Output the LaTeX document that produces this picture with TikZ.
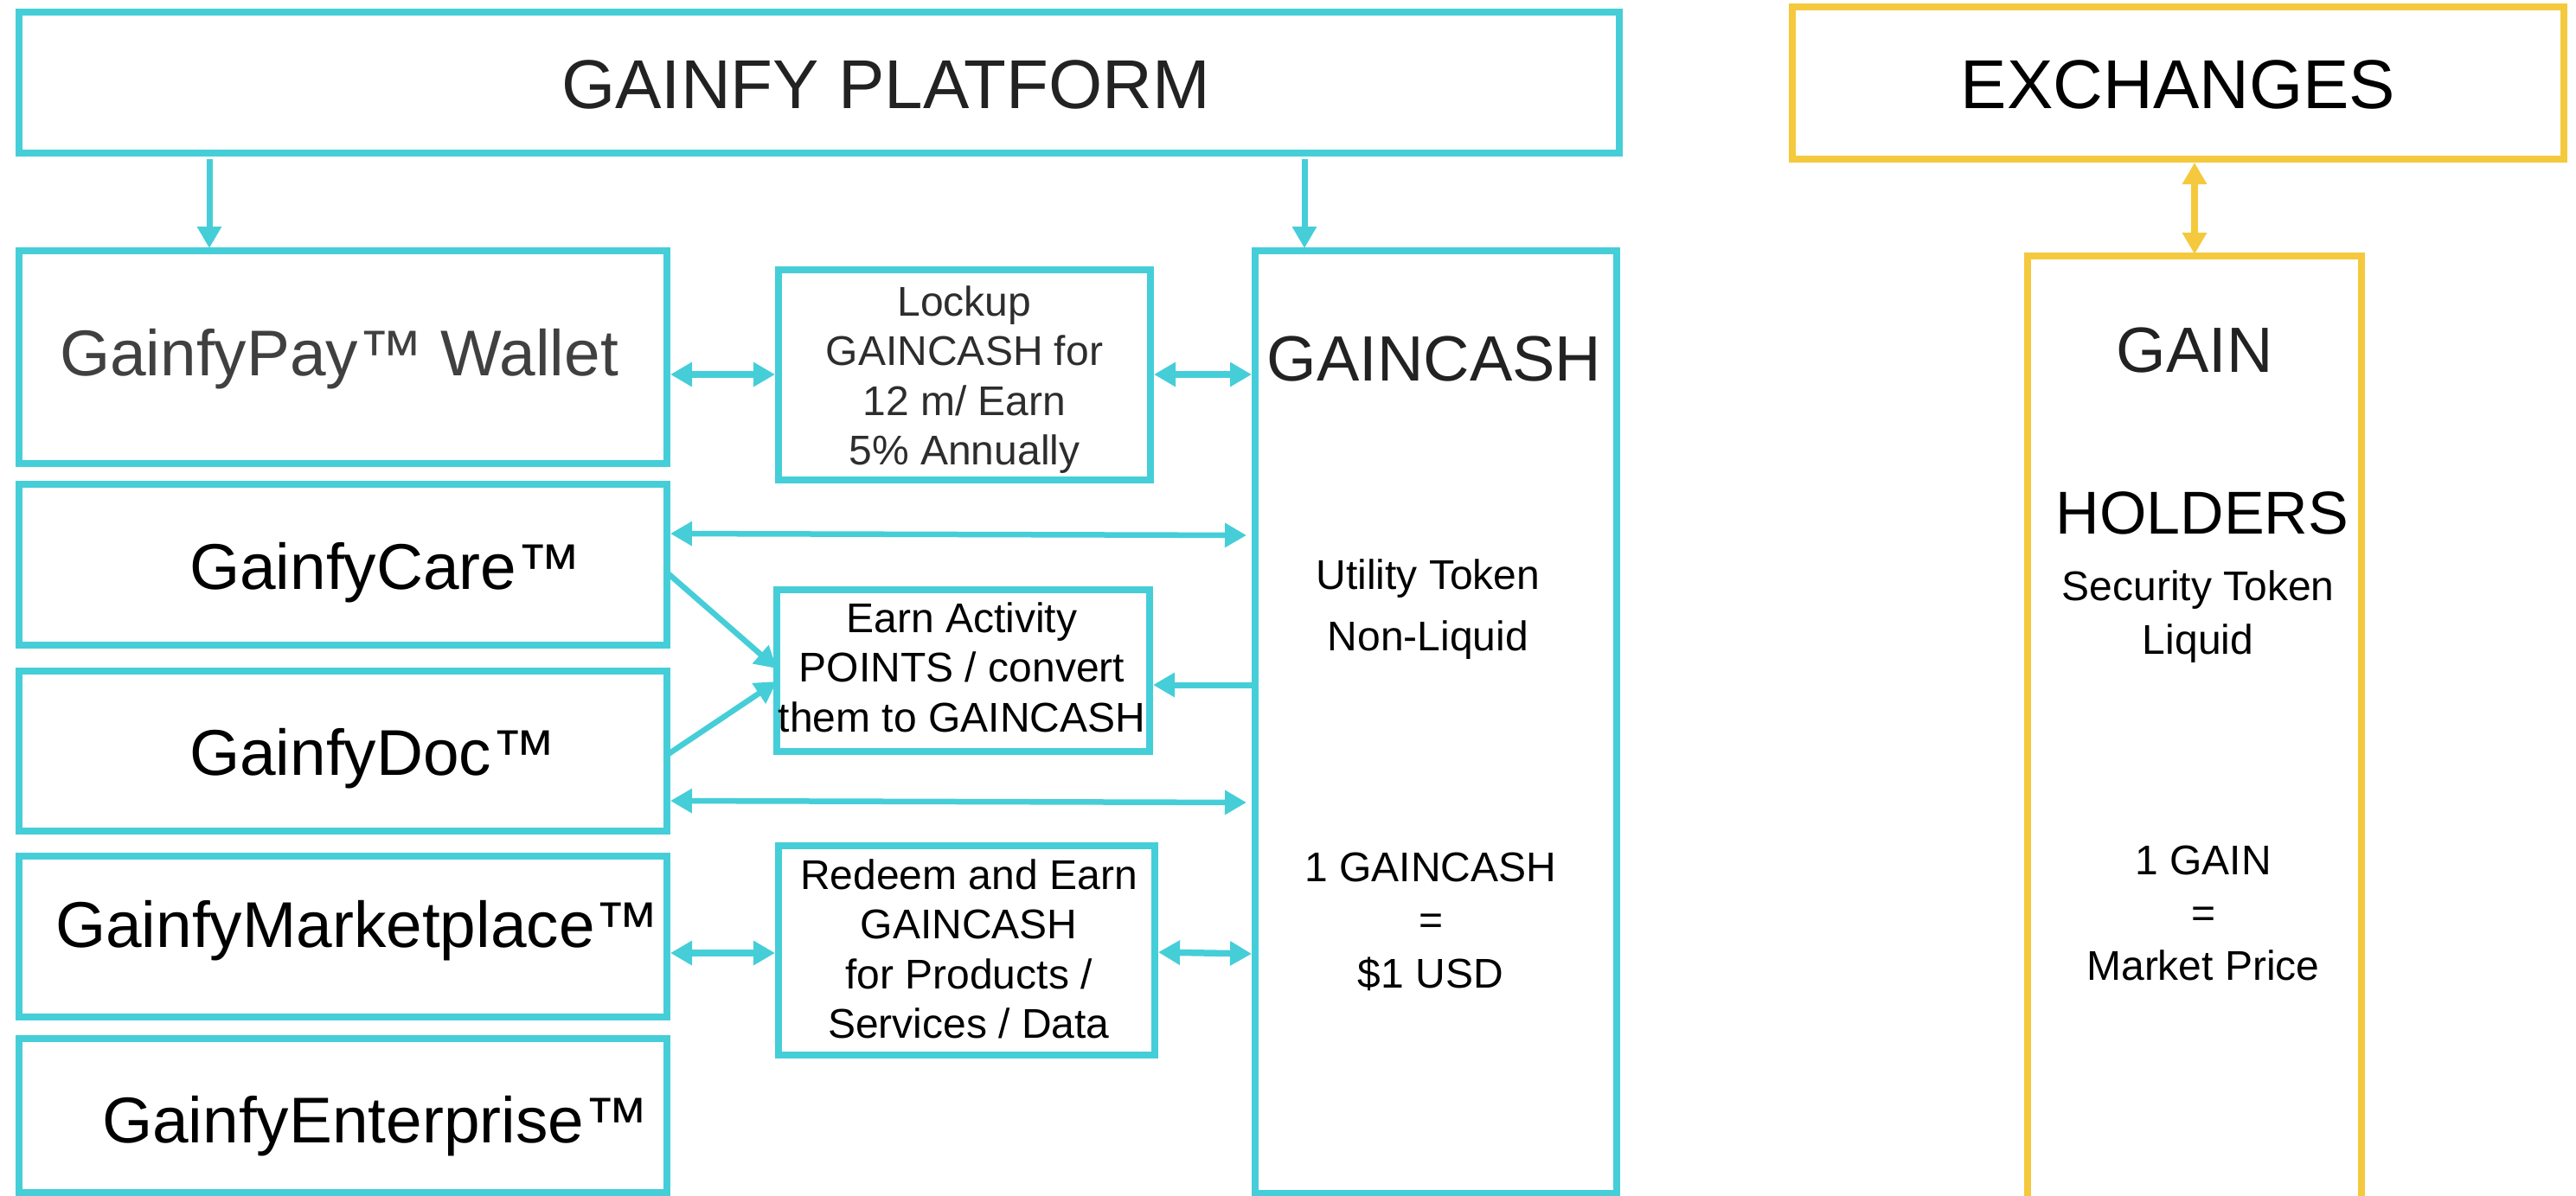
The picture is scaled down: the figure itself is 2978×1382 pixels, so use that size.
\documentclass[tikz,border=0pt]{standalone}
\usepackage{fontspec}
\setmainfont{Liberation Sans}
\usetikzlibrary{arrows.meta,calc}
\definecolor{cy}{RGB}{69,206,216}
\definecolor{yl}{RGB}{245,201,61}
\definecolor{dk}{RGB}{34,34,34}
\definecolor{gr}{RGB}{64,64,64}
\definecolor{dg}{RGB}{45,45,45}
\newcommand\lines[1]{\begin{tabular}[t]{@{}c@{}}#1\end{tabular}}
\begin{document}
\begin{tikzpicture}[x=1pt,y=-1pt,
  cbox/.style={draw=cy, line width=8pt, inner sep=0pt, outer sep=0pt, anchor=north west, line join=miter},
  ybox/.style={cbox, draw=yl},
  arr/.style={draw=cy, line width=7.5pt, -{Triangle[length=25pt,width=27pt]}, shorten >=4pt},
  darr/.style={draw=cy, line width=7.5pt, {Triangle[length=25pt,width=27pt]}-{Triangle[length=25pt,width=27pt]}, shorten >=4pt, shorten <=4pt},
  big/.style={font=\fontsize{80}{96}\selectfont, text=dk, inner sep=0pt, anchor=base},
  mid/.style={font=\fontsize{74.8}{88}\selectfont, text=black, inner sep=0pt, anchor=base west},
  ttl/.style={font=\fontsize{74}{88}\selectfont, text=dk, inner sep=0pt, anchor=base},
  sm/.style={font=\fontsize{48}{57.5}\selectfont, text=black, inner sep=0pt, anchor=base},
]
\useasboundingbox (0,0) rectangle (2978,1382);
\clip (0,0) rectangle (2978,1382);

% boxes
\node[cbox, minimum width=1850pt, minimum height=163pt] (plat) at (22,14) {};
\node[ybox, minimum width=892pt, minimum height=176pt] (exch) at (2072,8) {};
\node[cbox, minimum width=749pt, minimum height=246pt] (pay) at (22,290) {};
\node[cbox, minimum width=749pt, minimum height=186pt] (care) at (22,560) {};
\node[cbox, minimum width=749pt, minimum height=185pt] (doc) at (22,776) {};
\node[cbox, minimum width=749pt, minimum height=186pt] (mkt) at (22,990) {};
\node[cbox, minimum width=749pt, minimum height=178pt] (ent) at (22,1201) {};
\node[cbox, minimum width=430pt, minimum height=243pt] (lock) at (900,312) {};
\node[cbox, minimum width=431pt, minimum height=187pt] (earn) at (898,682) {};
\node[cbox, minimum width=435pt, minimum height=242pt] (redeem) at (900,978) {};
\node[cbox, minimum width=418pt, minimum height=1090pt] (gc) at (1451,290) {};
\node[ybox, minimum width=386pt, minimum height=1120pt] (gain) at (2344,296) {};

% texts
\node[big] (tplat) at (1024,125) {GAINFY PLATFORM};
\node[big, text=black] (texch) at (2518,125) {EXCHANGES};
\node[mid, text=gr] (tpay) at (69,434) {GainfyPay™ Wallet};
\node[mid] (tcare) at (219,681) {GainfyCare™};
\node[mid] (tdoc) at (219,896) {GainfyDoc™};
\node[mid] (tmkt) at (64,1095) {GainfyMarketplace™};
\node[mid] (tent) at (118,1321) {GainfyEnterprise™};
\node[sm, text=dg] (tlock) at (1115,365) {\lines{Lockup\\GAINCASH for\\12 m/ Earn\\5\% Annually}};
\node[sm] (tearn) at (1112,731) {\lines{Earn Activity\\POINTS / convert\\them to GAINCASH}};
\node[sm] (tredeem) at (1120,1028) {\lines{Redeem and Earn\\GAINCASH\\for Products /\\Services / Data}};
\node[ttl] (tgc) at (1658,440) {GAINCASH};
\node[sm, font=\fontsize{48}{71}\selectfont] (tutil) at (1651,681) {\lines{Utility Token\\Non-Liquid}};
\node[sm, font=\fontsize{48}{61.5}\selectfont] (tgcval) at (1654,1019) {\lines{1 GAINCASH\\=\\\$1 USD}};
\node[ttl] (tgain) at (2537,430) {GAIN};
\node[ttl, font=\fontsize{70}{84}\selectfont, text=black] (thold) at (2546,617) {HOLDERS};
\node[sm, font=\fontsize{48}{62}\selectfont] (tsec) at (2541,694) {\lines{Security Token\\Liquid}};
\node[sm, font=\fontsize{48}{61}\selectfont] (tgainval) at (2547,1011) {\lines{1 GAIN\\=\\Market Price}};

% connectors
\draw[arr, line width=7pt, shorten >=3pt] (242,184) -- (242,184 |- pay.north);
\draw[arr, line width=7pt, shorten >=3pt] (1508,184) -- (1508,184 |- gc.north);
\draw[darr] (pay.east |- 0,433) -- (lock.west |- 0,433);
\draw[darr] (lock.east |- 0,433) -- (gc.west |- 0,433);
\draw[darr, line width=6.5pt, shorten >=10pt] (care.east |- 0,617) -- (gc.west |- 0,619);
\draw[arr, line width=6.5pt, shorten >=0pt] (care.east |- 0,662) -- (earn.west |- 0,773);
\draw[arr, line width=6.5pt, shorten >=0pt] (doc.east |- 0,873) -- (earn.west |- 0,788);
\draw[arr, line width=7pt] (gc.west |- 0,792) -- (earn.east |- 0,792);
\draw[darr, line width=6.5pt, shorten >=10pt] (doc.east |- 0,926) -- (gc.west |- 0,928);
\draw[darr] (mkt.east |- 0,1102) -- (redeem.west |- 0,1102);
\draw[darr] (redeem.east |- 0,1101) -- (gc.west |- 0,1103);
\draw[darr, draw=yl, shorten <=4pt, shorten >=2pt] (gain.north |- exch.south) -- (gain.north);
\end{tikzpicture}
\end{document}
